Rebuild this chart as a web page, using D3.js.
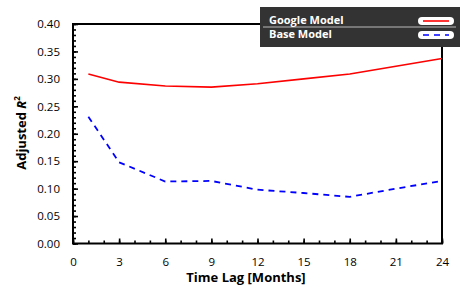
<!DOCTYPE html>
<html><head><meta charset="utf-8">
<script src="https://cdn.jsdelivr.net/npm/d3@7"></script>
<style>body{margin:0;background:#fff}svg{display:block;font-family:"Open Sans",sans-serif}</style>
</head><body><svg id="c" width="460" height="291"></svg>
<script>
const months = [1, 3, 6, 9, 12, 15, 18, 21, 24];
const googleModel = [0.309, 0.294, 0.287, 0.285, 0.291, 0.300, 0.309, 0.323, 0.337];
const baseModel = [0.231, 0.148, 0.113, 0.114, 0.098, 0.092, 0.085, 0.100, 0.114];
const xTicks = [0, 3, 6, 9, 12, 15, 18, 21, 24];
const yTicks = [0, 0.05, 0.10, 0.15, 0.20, 0.25, 0.30, 0.35, 0.40];
const seriesNames = ["Google Model", "Base Model"];

const svg = d3.select("#c");
const L = 73, R = 442, T = 24, B = 243.5;
const x = d3.scaleLinear().domain([0, 24]).range([L, R]);
const y = d3.scaleLinear().domain([0, 0.40]).range([B, T]);

// minor ticks
const gx = svg.append("g").attr("transform", `translate(0,${B})`)
  .call(d3.axisBottom(x).tickValues(d3.range(0, 25, 1)).tickSize(-3).tickFormat(""));
const gy = svg.append("g").attr("transform", `translate(${L},0)`)
  .call(d3.axisLeft(y).tickValues(d3.range(0, 0.401, 0.01)).tickSize(-3).tickFormat(""));
const gxM = svg.append("g").attr("transform", `translate(0,${B})`)
  .call(d3.axisBottom(x).tickValues(xTicks).tickSize(-5).tickPadding(14).tickFormat(d3.format("d")));
const gyM = svg.append("g").attr("transform", `translate(${L},0)`)
  .call(d3.axisLeft(y).tickValues(yTicks).tickSize(-5).tickPadding(13).tickFormat(d3.format(".2f")));
[gx, gy, gxM, gyM].forEach(g => {
  g.select(".domain").remove();
  g.selectAll("line").attr("stroke", "#000").attr("stroke-width", 1.6);
  g.selectAll("text").attr("font-size", 11.5).attr("fill", "#000").attr("font-family", "Open Sans");
});
// frame
svg.append("rect").attr("x", L).attr("y", T).attr("width", R - L).attr("height", B - T)
  .attr("fill", "none").attr("stroke", "#000").attr("stroke-width", 2);

const line = d3.line().x(d => x(d[0])).y(d => y(d[1]));
svg.append("path").datum(months.map((m, i) => [m, googleModel[i]]))
  .attr("d", line).attr("fill", "none").attr("stroke", "#f00").attr("stroke-width", 1.6);
svg.append("path").datum(months.map((m, i) => [m, baseModel[i]]))
  .attr("d", line).attr("fill", "none").attr("stroke", "#00f").attr("stroke-width", 1.8)
  .attr("stroke-dasharray", "6,5");

// axis titles
svg.append("text").attr("x", 246).attr("y", 282).attr("text-anchor", "middle")
  .attr("font-size", 13).attr("font-weight", "bold").text("Time Lag [Months]");
const yt = svg.append("text").attr("transform", "translate(26,133) rotate(-90)")
  .attr("text-anchor", "middle").attr("font-size", 13).attr("font-weight", "bold");
yt.append("tspan").text("Adjusted ");
yt.append("tspan").attr("font-style", "italic").text("R");
yt.append("tspan").attr("font-size", 8).attr("dy", -6).text("2");

// legend
const lg = svg.append("g");
lg.append("rect").attr("x", 260).attr("y", 7).attr("width", 200).attr("height", 40).attr("fill", "#333");
lg.append("line").attr("x1", 263).attr("x2", 456).attr("y1", 27).attr("y2", 27)
  .attr("stroke", "#bbb").attr("stroke-width", 1);
seriesNames.forEach((n, i) => {
  const cy = 21 + i * 14;
  lg.append("text").attr("x", 269).attr("y", i ? 38 : 23.5).attr("fill", "#fff")
    .attr("font-size", 11).attr("font-weight", "bold").text(n);
  lg.append("rect").attr("x", 418).attr("y", cy - 4).attr("width", 36).attr("height", 8)
    .attr("rx", 4).attr("fill", "#fff");
  lg.append("line").attr("x1", 423).attr("x2", 449).attr("y1", cy).attr("y2", cy)
    .attr("stroke", i ? "#00f" : "#f00").attr("stroke-width", 1.6)
    .attr("stroke-dasharray", i ? "6,5" : null);
});
</script></body></html>
